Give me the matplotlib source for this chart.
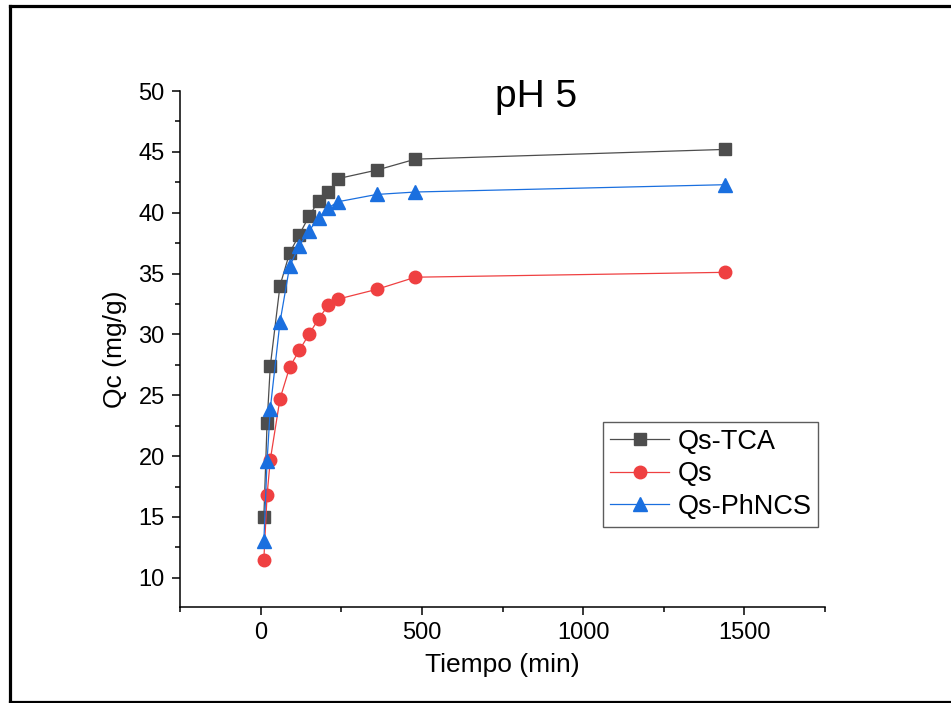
import matplotlib
matplotlib.use("Agg")
import matplotlib.pyplot as plt
from matplotlib.lines import Line2D
from matplotlib.ticker import MultipleLocator

# tiempo (min)
tiempo = [10, 20, 30, 60, 90, 120, 150, 180, 210, 240, 360, 480, 1440]

# Qc (mg/g) for each material
qs_tca = [15.0, 22.7, 27.4, 34.0, 36.7, 38.2, 39.7, 41.0, 41.7, 42.8, 43.5, 44.4, 45.2]
qs = [11.5, 16.8, 19.7, 24.7, 27.3, 28.7, 30.0, 31.3, 32.4, 32.9, 33.7, 34.7, 35.1]
qs_phncs = [13.0, 19.6, 23.9, 31.0, 35.6, 37.3, 38.5, 39.6, 40.4, 40.9, 41.5, 41.7, 42.3]

labels = ["Qs-TCA", "Qs", "Qs-PhNCS"]
colors = ["#4d4d4d", "#ef4041", "#1a6fdf"]
markers = ["s", "o", "^"]

plt.rcParams["font.family"] = ["Liberation Sans", "DejaVu Sans"]

fig = plt.figure(figsize=(9.51, 7.03), dpi=100)
ax = fig.add_axes([180 / 951, 1 - 607 / 703, 645 / 951, 516 / 703])

for ydata, lab, col, mk in zip([qs_tca, qs, qs_phncs], labels, colors, markers):
    ax.plot(tiempo, ydata, color=col, marker=mk, markersize=9.5 if mk == "^" else 9,
            linewidth=0.9, label=lab)

ax.set_xlim(-250, 1750)
ax.set_ylim(7.6, 50)
ax.xaxis.set_major_locator(MultipleLocator(500))
ax.xaxis.set_minor_locator(MultipleLocator(250))
ax.yaxis.set_major_locator(MultipleLocator(5))
ax.yaxis.set_minor_locator(MultipleLocator(2.5))

for side in ["top", "right"]:
    ax.spines[side].set_visible(False)
for side in ["left", "bottom"]:
    ax.spines[side].set_linewidth(1.1)

ax.tick_params(which="major", direction="out", length=6, width=1.1, labelsize=17, pad=5)
ax.tick_params(which="minor", direction="out", length=3.5, width=1.1)

ax.set_xlabel("Tiempo (min)", fontsize=19, labelpad=6)
ax.set_ylabel("Qc (mg/g)", fontsize=19, labelpad=8)

ax.text(0.552, 0.969, "pH 5", transform=ax.transAxes, fontsize=28,
        ha="center", va="baseline")

leg = ax.legend(loc="upper left", bbox_to_anchor=(0.656, 0.3585), borderaxespad=0,
                fontsize=19.5, frameon=True, fancybox=False, handlelength=2.2,
                handletextpad=0.3, borderpad=0.25, labelspacing=0.24)
leg.get_frame().set_edgecolor("#333333")
leg.get_frame().set_linewidth(1.0)

# black frame round the picture (open on the right)
lw = 2.3
fig.add_artist(Line2D([9.5 / 951, 1], [1 - 5.5 / 703, 1 - 5.5 / 703], color="black", linewidth=lw))
fig.add_artist(Line2D([9.5 / 951, 9.5 / 951], [1 - 701.5 / 703, 1 - 5.5 / 703], color="black", linewidth=lw))
fig.add_artist(Line2D([9.5 / 951, 1], [1 - 701.5 / 703, 1 - 701.5 / 703], color="black", linewidth=lw))

fig.savefig("out.png", dpi=100)
